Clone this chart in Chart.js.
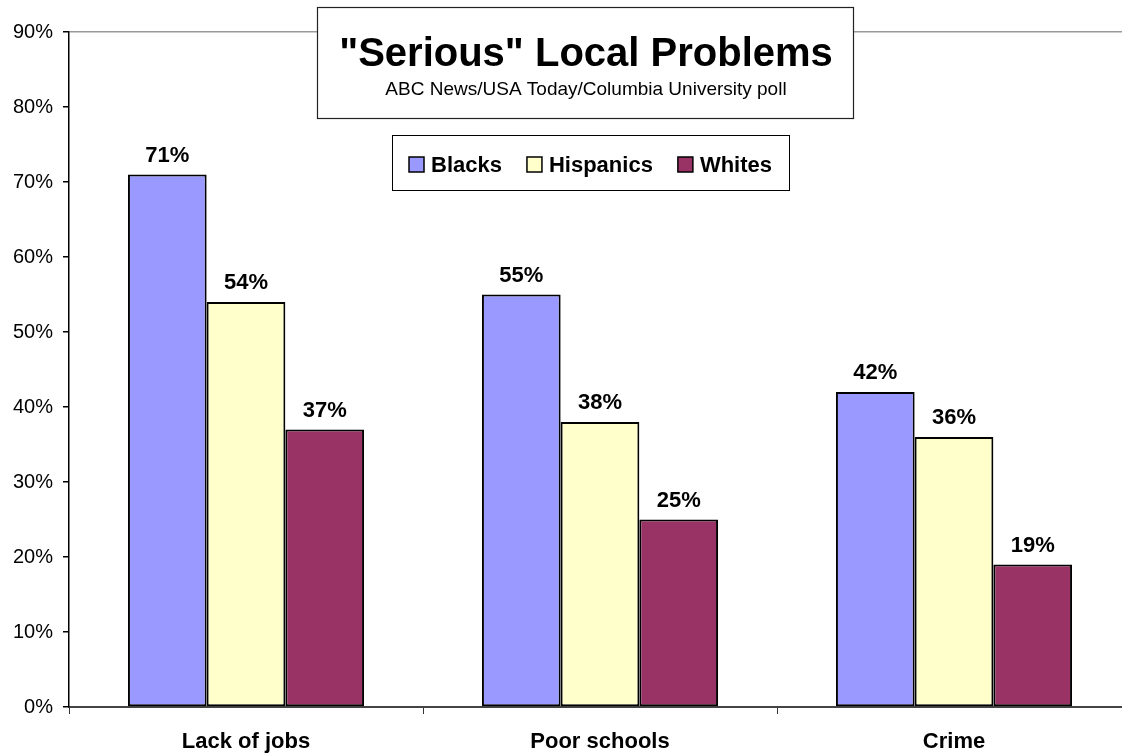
<!DOCTYPE html>
<html>
<head>
<meta charset="utf-8">
<script src="https://cdn.jsdelivr.net/npm/chart.js@4/dist/chart.umd.min.js"></script>
<style>
    body { margin: 0; background: #fff; overflow: hidden; }
    #myChart { display: block; }
</style>
</head>
<body>
<canvas id="myChart" width="1140" height="755"></canvas>
<script>
"use strict";

var categories = ['Lack of jobs', 'Poor schools', 'Crime'];
var blacks = [71, 55, 42];
var hispanics = [54, 38, 36];
var whites = [37, 25, 19];
var seriesNames = ['Blacks', 'Hispanics', 'Whites'];
var seriesColors = ['#9999ff', '#ffffcc', '#993366'];
var yTicks = [0, 10, 20, 30, 40, 50, 60, 70, 80, 90];

var titleText = '"Serious" Local Problems';
var subtitleText = 'ABC News/USA Today/Columbia University poll';

var FONT = "'Liberation Sans', Arial, Helvetica, sans-serif";
Chart.defaults.font.family = FONT;
Chart.defaults.color = '#000';

// percent labels over each bar
var barLabels = {
    id: 'barLabels',
    afterDatasetsDraw: function(chart) {
        var ctx = chart.ctx;
        ctx.save();
        ctx.font = 'bold 22px ' + FONT;
        ctx.fillStyle = '#000';
        ctx.textAlign = 'center';
        ctx.textBaseline = 'alphabetic';
        chart.data.datasets.forEach(function(ds, i) {
            var meta = chart.getDatasetMeta(i);
            meta.data.forEach(function(bar, j) {
                ctx.fillText(ds.data[j] + '%', bar.x, bar.y - 13);
            });
        });
        ctx.restore();
    }
};

// title box and legend box drawn over the plot
var boxes = {
    id: 'boxes',
    afterDraw: function(chart) {
        var ctx = chart.ctx;
        ctx.save();

        // title box
        ctx.fillStyle = '#fff';
        ctx.fillRect(317, 7, 536, 111);
        ctx.strokeStyle = '#222';
        ctx.lineWidth = 1.2;
        ctx.strokeRect(317.5, 7.5, 536, 111);
        ctx.fillStyle = '#000';
        ctx.textAlign = 'center';
        ctx.font = 'bold 40px ' + FONT;
        ctx.fillText(titleText, 586, 66);
        ctx.font = '19px ' + FONT;
        ctx.fillText(subtitleText, 586, 95);

        // legend box
        ctx.fillStyle = '#fff';
        ctx.fillRect(392, 135, 397, 55);
        ctx.strokeStyle = '#000';
        ctx.lineWidth = 1;
        ctx.strokeRect(392.5, 135.5, 397, 55);

        ctx.font = 'bold 22px ' + FONT;
        ctx.textAlign = 'left';
        var widths = chart.data.datasets.map(function(ds) {
            return 15 + 7 + ctx.measureText(ds.label).width;
        });
        var gap = 25;
        var total = widths.reduce(function(a, b) { return a + b; }, 0) + gap * (widths.length - 1);
        var x = 392 + (397 - total) / 2;
        chart.data.datasets.forEach(function(ds, i) {
            ctx.fillStyle = ds.backgroundColor;
            ctx.fillRect(x, 157, 15, 15);
            ctx.strokeStyle = '#000';
            ctx.lineWidth = 1.5;
            ctx.strokeRect(x, 157, 15, 15);
            ctx.fillStyle = '#000';
            ctx.fillText(ds.label, x + 22, 172);
            x += widths[i] + gap;
        });
        ctx.restore();
    }
};

var ctx1 = document.getElementById('myChart').getContext('2d');

var seriesData = [blacks, hispanics, whites];

var myChart = new Chart(ctx1, {
    type: 'bar',
    data: {
        labels: categories,
        datasets: seriesData.map(function(values, i) {
            return {
                label: seriesNames[i],
                data: values,
                backgroundColor: seriesColors[i],
                borderColor: '#000',
                borderWidth: 2,
                borderSkipped: false,
                barPercentage: 1,
                categoryPercentage: 0.667
            };
        })
    },
    options: {
        responsive: false,
        animation: false,
        layout: { padding: { top: 32, right: 9, left: 0, bottom: 0 } },
        plugins: {
            legend: { display: false },
            title: { display: false },
            tooltip: { enabled: false }
        },
        scales: {
            x: {
                offset: true,
                grid: {
                    offset: true,
                    drawOnChartArea: false,
                    tickLength: 7,
                    color: '#333',
                    lineWidth: 1
                },
                border: { color: '#444', width: 2 },
                ticks: {
                    padding: 15,
                    font: { size: 22, weight: 'bold' },
                    color: '#000'
                },
                afterFit: function(scale) { scale.height = 48; }
            },
            y: {
                min: 0,
                max: 90,
                afterBuildTicks: function(scale) {
                    scale.ticks = yTicks.map(function(v) { return { value: v }; });
                },
                grid: {
                    drawOnChartArea: true,
                    tickLength: 6,
                    color: function(c) {
                        return c.tick && c.tick.value === 90 ? '#999' : 'rgba(0,0,0,0)';
                    },
                    tickColor: '#000',
                    lineWidth: 1.5
                },
                border: { color: '#000', width: 1.5 },
                ticks: {
                    padding: 10,
                    font: { size: 20 },
                    color: '#000',
                    callback: function(v) { return v + '%'; }
                },
                afterFit: function(scale) { scale.width = 69; }
            }
        }
    },
    plugins: [barLabels, boxes]
});
</script>
</body>
</html>
